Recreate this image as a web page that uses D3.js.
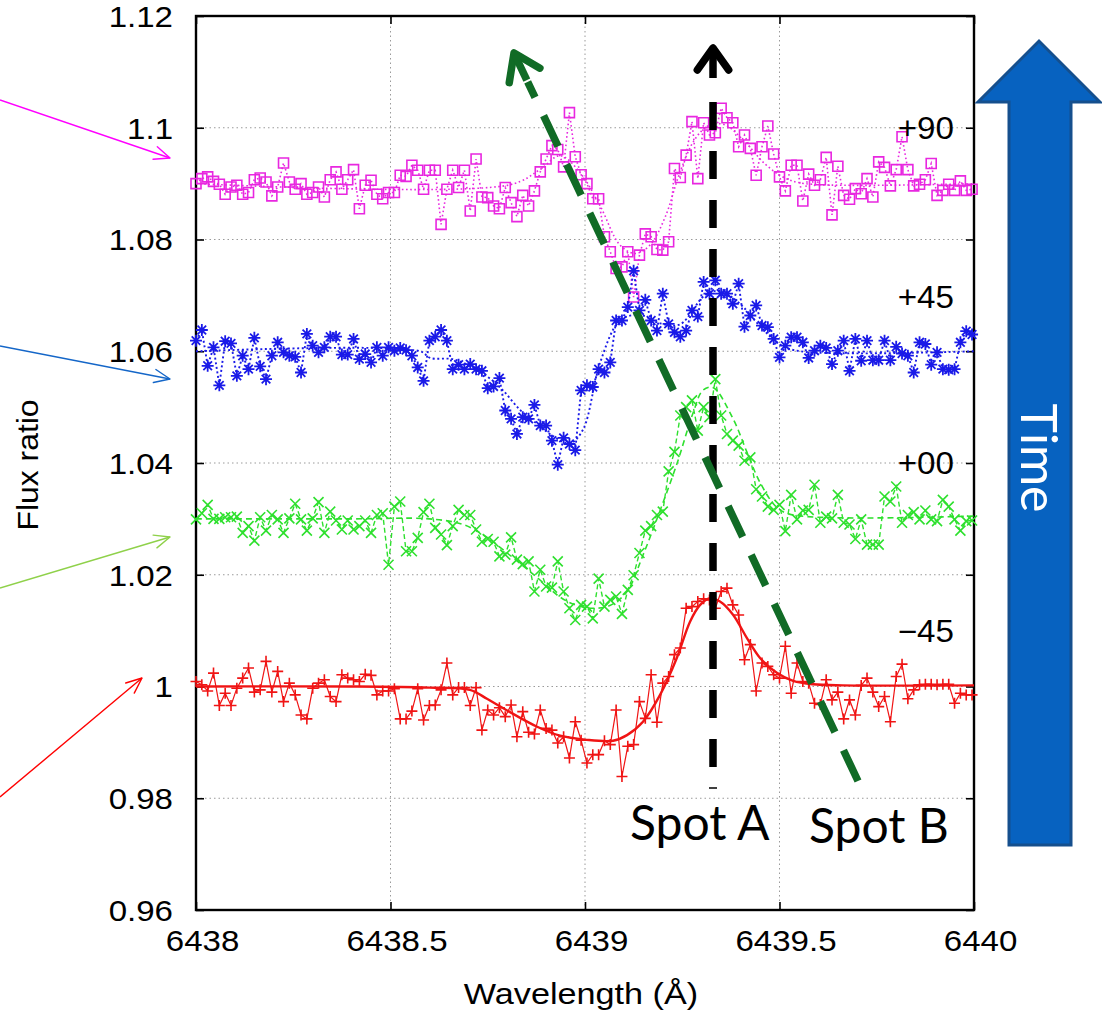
<!DOCTYPE html>
<html lang="en">
<head>
<meta charset="utf-8">
<title>Flux ratio vs wavelength</title>
<script src="https://d3js.org/d3.v7.min.js"></script>
<style>
body { margin: 0; background: #fff; }
svg { display: block; font-family: "Liberation Sans", Arial, sans-serif; }
.grid line { stroke: #9a9a9a; stroke-width: 1; stroke-dasharray: 1.5,3; }
.axis path { display: none; }
.axis line { stroke: #000; stroke-width: 1.6; }
</style>
</head>
<body>
<svg width="1102" height="1016"></svg>
<script>

// spectrum sampling (Angstrom), one flux value per sample in each series below
var wavelengths = d3.range(134).map(function(i) { return 6438 + i * 0.015; });

var fluxM45 = [1.0009,1.0003,0.9992,1.0024,0.9966,0.9988,0.9966,0.9997,1.0015,1.0033,
  0.9990,0.9994,1.0045,0.9990,1.0027,0.9973,1.0006,0.9985,0.9949,0.9942,
  0.9997,1.0006,1.0012,0.9982,0.9973,1.0021,1.0015,1.0012,1.0009,1.0022,
  1.0020,0.9985,0.9992,0.9992,0.9996,0.9942,0.9942,0.9956,0.9996,0.9940,
  0.9966,0.9967,0.9994,1.0042,0.9985,0.9998,0.9998,0.9966,0.9998,0.9922,
  0.9958,0.9949,0.9962,0.9946,0.9967,0.9910,0.9955,0.9918,0.9915,0.9958,
  0.9925,0.9922,0.9899,0.9910,0.9872,0.9937,0.9904,0.9863,0.9878,0.9878,
  0.9903,0.9896,0.9958,0.9839,0.9893,0.9896,0.9973,0.9943,1.0021,0.9936,
  1.0006,1.0018,1.0057,1.0069,1.0140,1.0143,1.0152,1.0157,1.0155,1.0140,
  1.0170,1.0176,1.0146,1.0128,1.0048,1.0075,0.9992,1.0042,1.0036,1.0021,
  1.0015,1.0072,0.9988,1.0042,1.0009,1.0006,0.9970,0.9968,1.0012,0.9976,
  0.9990,0.9942,0.9976,0.9949,1.0002,1.0015,0.9990,0.9964,0.9982,0.9937,
  1.0018,1.0040,0.9978,0.9994,1.0003,1.0004,1.0004,1.0003,1.0004,1.0004,
  0.9970,0.9988,0.9985,0.9985];

var fluxP00 = [1.0299,1.0310,1.0325,1.0300,1.0300,1.0303,1.0303,1.0304,1.0275,1.0287,
  1.0261,1.0303,1.0279,1.0307,1.0299,1.0275,1.0301,1.0327,1.0299,1.0279,
  1.0301,1.0330,1.0275,1.0313,1.0297,1.0281,1.0297,1.0281,1.0287,1.0297,
  1.0275,1.0307,1.0310,1.0218,1.0322,1.0331,1.0242,1.0242,1.0266,1.0312,
  1.0327,1.0284,1.0272,1.0253,1.0287,1.0316,1.0307,1.0307,1.0281,1.0259,
  1.0264,1.0259,1.0233,1.0236,1.0267,1.0227,1.0219,1.0224,1.0170,1.0209,
  1.0179,1.0177,1.0224,1.0170,1.0140,1.0119,1.0146,1.0143,1.0122,1.0193,
  1.0143,1.0155,1.0161,1.0130,1.0173,1.0199,1.0239,1.0279,1.0287,1.0307,
  1.0313,1.0385,1.0420,1.0485,1.0500,1.0512,1.0458,1.0500,1.0482,1.0550,
  1.0485,1.0452,1.0440,1.0431,1.0404,1.0410,1.0353,1.0340,1.0322,1.0316,
  1.0325,1.0278,1.0343,1.0299,1.0315,1.0316,1.0361,1.0293,1.0304,1.0301,
  1.0343,1.0293,1.0290,1.0264,1.0299,1.0254,1.0254,1.0254,1.0340,1.0331,
  1.0358,1.0293,1.0307,1.0312,1.0299,1.0315,1.0299,1.0296,1.0334,1.0322,
  1.0299,1.0279,1.0296,1.0297];

var fluxP45 = [1.0619,1.0638,1.0574,1.0607,1.0539,1.0618,1.0614,1.0556,1.0592,1.0568,
  1.0624,1.0573,1.0550,1.0592,1.0616,1.0598,1.0592,1.0590,1.0562,1.0631,
  1.0610,1.0598,1.0607,1.0626,1.0626,1.0594,1.0594,1.0622,1.0586,1.0595,
  1.0580,1.0607,1.0592,1.0607,1.0601,1.0606,1.0602,1.0592,1.0571,1.0547,
  1.0619,1.0626,1.0638,1.0619,1.0568,1.0576,1.0568,1.0577,1.0568,1.0565,
  1.0534,1.0537,1.0552,1.0494,1.0479,1.0452,1.0482,1.0479,1.0504,1.0467,
  1.0467,1.0440,1.0397,1.0445,1.0434,1.0423,1.0530,1.0539,1.0536,1.0568,
  1.0562,1.0580,1.0655,1.0655,1.0679,1.0744,1.0673,1.0692,1.0655,1.0637,
  1.0703,1.0649,1.0634,1.0626,1.0637,1.0673,1.0662,1.0724,1.0703,1.0727,
  1.0703,1.0703,1.0685,1.0721,1.0644,1.0664,1.0682,1.0646,1.0643,1.0622,
  1.0589,1.0610,1.0625,1.0625,1.0616,1.0588,1.0601,1.0610,1.0606,1.0577,
  1.0601,1.0619,1.0565,1.0622,1.0583,1.0619,1.0584,1.0584,1.0619,1.0584,
  1.0608,1.0596,1.0592,1.0562,1.0616,1.0613,1.0576,1.0598,1.0568,1.0567,
  1.0568,1.0616,1.0636,1.0630];

var fluxP90 = [1.0900,1.0909,1.0912,1.0904,1.0899,1.0881,1.0894,1.0897,1.0881,1.0884,
  1.0907,1.0910,1.0903,1.0878,1.0894,1.0937,1.0903,1.0890,1.0900,1.0881,
  1.0884,1.0894,1.0876,1.0907,1.0921,1.0890,1.0907,1.0925,1.0855,1.0897,
  1.0906,1.0881,1.0873,1.0884,1.0884,1.0915,1.0913,1.0933,1.0924,1.0890,
  1.0924,1.0924,1.0827,1.0890,1.0924,1.0893,1.0924,1.0851,1.0944,1.0876,
  1.0875,1.0860,1.0855,1.0893,1.0866,1.0841,1.0879,1.0860,1.0887,1.0921,
  1.0944,1.0968,1.0961,1.0930,1.1027,1.0948,1.0916,1.0900,1.0873,1.0873,
  1.0805,1.0778,1.0748,1.0751,1.0778,1.0697,1.0772,1.0810,1.0805,1.0782,
  1.0781,1.0796,1.0927,1.0911,1.0951,1.1011,1.0909,1.1009,1.0987,1.0991,
  1.1035,1.1018,1.1009,1.0966,1.0987,1.0963,1.0915,1.0966,1.1003,1.0953,
  1.0912,1.0887,1.0933,1.0933,1.0869,1.0917,1.0897,1.0907,1.0947,1.0844,
  1.0931,1.0879,1.0872,1.0891,1.0882,1.0909,1.0876,1.0939,1.0929,1.0896,
  1.0925,1.0984,1.0925,1.0896,1.0899,1.0907,1.0936,1.0879,1.0888,1.0899,
  1.0888,1.0905,1.0888,1.0890];

// smooth model curves (wavelength, flux)
var fitM45W = [6438.0,6438.40,6438.60,6438.704,6438.748,6438.790,6438.877,6438.936,6439.0,6439.072,6439.108,6439.149,6439.193,6439.236,6439.270,6439.296,6439.321,6439.347,6439.381,6439.416,6439.450,6439.494,6439.535,6439.586,6439.663,6440.0];
var fitM45  = [1.0000,1.0000,0.9998,0.9994,0.9978,0.9961,0.9928,0.9912,0.9905,0.9903,0.9913,0.9937,0.9985,1.0051,1.0116,1.0146,1.0158,1.0152,1.0128,1.0087,1.0051,1.0024,1.0010,1.0004,1.0002,1.0002];

var fitP00W = [6438.0,6438.40,6438.60,6438.686,6438.746,6438.789,6438.877,6438.936,6438.979,6439.021,6439.064,6439.108,6439.149,6439.193,6439.237,6439.278,6439.303,6439.329,6439.380,6439.416,6439.450,6439.494,6439.535,6440.0];
var fitP00  = [1.0300,1.0300,1.0300,1.0290,1.0268,1.0245,1.0195,1.0160,1.0145,1.0140,1.0145,1.0170,1.0235,1.0315,1.0400,1.0490,1.0530,1.0535,1.0480,1.0420,1.0365,1.0320,1.0307,1.0305];

var fitP45W = [6438.0,6438.576,6438.602,6438.666,6438.748,6438.789,6438.833,6438.877,6438.918,6438.961,6438.995,6439.039,6439.090,6439.141,6439.193,6439.244,6439.308,6439.347,6439.398,6439.450,6439.501,6439.553,6440.0];
var fitP45  = [1.0600,1.0600,1.0588,1.0585,1.0555,1.0530,1.0495,1.0470,1.0448,1.0435,1.0460,1.0580,1.0655,1.0665,1.0650,1.0648,1.0700,1.0708,1.0685,1.0645,1.0612,1.0600,1.0600];

var fitP90W = [6438.0,6438.807,6438.884,6438.936,6438.987,6439.039,6439.090,6439.129,6439.167,6439.206,6439.244,6439.283,6439.321,6439.360,6439.411,6439.463,6439.514,6439.566,6440.0];
var fitP90  = [1.0900,1.0898,1.0925,1.0950,1.0920,1.0860,1.0790,1.0775,1.0790,1.0840,1.0920,1.0980,1.1005,1.1005,1.0975,1.0935,1.0910,1.0900,1.0900];

var xTicks = [6438, 6438.5, 6439, 6439.5, 6440];
var xTickLabels = ["6438", "6438.5", "6439", "6439.5", "6440"];
var yTicks = [0.96, 0.98, 1.0, 1.02, 1.04, 1.06, 1.08, 1.1, 1.12];
var yTickLabels = ["0.96", "0.98", "1", "1.02", "1.04", "1.06", "1.08", "1.1", "1.12"];

var phaseLabels = ["\u221245", "+00", "+45", "+90"];
var phaseLabelY = [1.0099, 1.0400, 1.0697, 1.0999];

var svg = d3.select("svg"),
    margin = {top: 16, right: 128, bottom: 106, left: 196},
    width = +svg.attr("width") - margin.left - margin.right,
    height = +svg.attr("height") - margin.top - margin.bottom;

var x = d3.scaleLinear().domain([6438, 6440]).range([margin.left, margin.left + width]);
var y = d3.scaleLinear().domain([0.96, 1.12]).range([margin.top + height, margin.top]);

var stretch = 1.14;

// grid
var grid = svg.append("g").attr("class", "grid");
grid.selectAll(".gx").data(xTicks.slice(1, -1)).enter().append("line")
    .attr("x1", function(d) { return x(d); }).attr("x2", function(d) { return x(d); })
    .attr("y1", y(0.96)).attr("y2", y(1.12));
grid.selectAll(".gy").data(yTicks.slice(1, -1)).enter().append("line")
    .attr("y1", function(d) { return y(d); }).attr("y2", function(d) { return y(d); })
    .attr("x1", x(6438)).attr("x2", x(6440));

// axes
var yAxis = svg.append("g").attr("class", "axis")
    .attr("transform", "translate(" + margin.left + ",0)")
    .call(d3.axisLeft(y).tickValues(yTicks).tickSize(-8).tickSizeOuter(0).tickPadding(23)
      .tickFormat(function(d, i) { return yTickLabels[i]; }));
yAxis.selectAll("text")
    .attr("fill", "#000").style("font-size", "29px")
    .attr("x", -23 / stretch).attr("dy", "0.36em")
    .attr("transform", "scale(" + stretch + ",1)");

var xAxis = svg.append("g").attr("class", "axis")
    .attr("transform", "translate(0," + (margin.top + height) + ")")
    .call(d3.axisBottom(x).tickValues(xTicks).tickSize(-8).tickSizeOuter(0).tickPadding(20)
      .tickFormat(function(d, i) { return xTickLabels[i]; }));
xAxis.selectAll("text")
    .attr("fill", "#000").style("font-size", "29px")
    .attr("x", 6 / stretch)
    .attr("transform", "scale(" + stretch + ",1)");

svg.append("g").attr("class", "axis")
    .attr("transform", "translate(" + (margin.left + width) + ",0)")
    .call(d3.axisRight(y).tickValues(yTicks).tickSize(-8).tickSizeOuter(0).tickFormat(""));
svg.append("g").attr("class", "axis")
    .attr("transform", "translate(0," + margin.top + ")")
    .call(d3.axisTop(x).tickValues(xTicks).tickSize(-8).tickSizeOuter(0).tickFormat(""));

svg.append("rect")
    .attr("x", margin.left).attr("y", margin.top)
    .attr("width", width).attr("height", height)
    .attr("fill", "none").attr("stroke", "#000").attr("stroke-width", 2.4);

// axis titles
svg.append("text")
    .attr("transform", "translate(" + (x(6439) - 4) + ",1004) scale(" + stretch + ",1)")
    .attr("text-anchor", "middle").style("font-size", "30px")
    .text("Wavelength (\u00c5)");
svg.append("text")
    .attr("transform", "translate(38,465) rotate(-90) scale(1.1,1)")
    .attr("text-anchor", "middle").style("font-size", "29px")
    .text("Flux ratio");

// series
var plot = svg.append("g");

function pts(vals) {
  return vals.map(function(v, i) { return [wavelengths[i], v]; });
}
function fitPts(ws, vs) {
  return ws.map(function(w, i) { return [w, vs[i]]; });
}
var line = d3.line().x(function(d) { return x(d[0]); }).y(function(d) { return y(d[1]); });
var smooth = d3.line().curve(d3.curveCatmullRom.alpha(0.5))
    .x(function(d) { return x(d[0]); }).y(function(d) { return y(d[1]); });

var series = [
  {vals: fluxP90, fw: fitP90W, fv: fitP90, color: "#e827e0", dash: "1.6,2.6", lw: 1.6, fdash: "1.6,2.6", flw: 1.6, mark: "square"},
  {vals: fluxP45, fw: fitP45W, fv: fitP45, color: "#1a1ae8", dash: "2,2.6", lw: 1.9, fdash: "2,2.6", flw: 1.9, mark: "star"},
  {vals: fluxP00, fw: fitP00W, fv: fitP00, color: "#2ee02e", dash: "5,3", lw: 1.4, fdash: "6,4", flw: 1.6, mark: "cross"},
  {vals: fluxM45, fw: fitM45W, fv: fitM45, color: "#f01414", dash: null, lw: 1.2, fdash: null, flw: 2.4, mark: "plus"}
];

var markPaths = {
  plus: "M-5.5,0H5.5M0,-5.5V5.5",
  cross: "M-5,-5L5,5M-5,5L5,-5",
  star: "M-6,0H6M0,-6V6M-4.3,-4.3L4.3,4.3M-4.3,4.3L4.3,-4.3",
  square: "M-5,-5H5V5H-5Z"
};

series.forEach(function(s) {
  var g = plot.append("g");
  g.append("path").datum(fitPts(s.fw, s.fv))
      .attr("d", smooth).attr("fill", "none")
      .attr("stroke", s.color).attr("stroke-width", s.flw)
      .attr("stroke-dasharray", s.fdash);
  g.append("path").datum(pts(s.vals))
      .attr("d", line).attr("fill", "none")
      .attr("stroke", s.color).attr("stroke-width", s.lw)
      .attr("stroke-dasharray", s.dash);
  g.selectAll(".m").data(pts(s.vals)).enter().append("path")
      .attr("transform", function(d) { return "translate(" + x(d[0]) + "," + y(d[1]) + ")"; })
      .attr("d", markPaths[s.mark])
      .attr("fill", "none").attr("stroke", s.color)
      .attr("stroke-width", s.mark === "star" ? 1.8 : 1.6);
});

// phase labels
svg.selectAll(".phase").data(phaseLabels).enter().append("text")
    .attr("transform", function(d, i) { return "translate(954," + y(phaseLabelY[i]) + ") scale(1.07,1)"; })
    .attr("text-anchor", "end").attr("dy", "0.36em")
    .style("font-size", "31px")
    .text(function(d) { return d; });

// annotation arrows
function chevron(g, tx, ty, ang, len, spread, color, w) {
  var a1 = ang + Math.PI - spread, a2 = ang + Math.PI + spread;
  g.append("path")
    .attr("d", "M" + (tx + len * Math.cos(a1)) + "," + (ty + len * Math.sin(a1)) +
               "L" + tx + "," + ty +
               "L" + (tx + len * Math.cos(a2)) + "," + (ty + len * Math.sin(a2)))
    .attr("fill", "none").attr("stroke", color).attr("stroke-width", w)
    .attr("stroke-linecap", "round").attr("stroke-linejoin", "round");
}

var ann = svg.append("g");

// Spot A: black dashed vertical
ann.append("line")
    .attr("x1", 713).attr("y1", 767).attr("x2", 713).attr("y2", 100)
    .attr("stroke", "#000").attr("stroke-width", 7.5).attr("stroke-dasharray", "28,21");
ann.append("line")
    .attr("x1", 713).attr("y1", 78).attr("x2", 713).attr("y2", 50)
    .attr("stroke", "#000").attr("stroke-width", 7.5);
chevron(ann, 713, 48, -Math.PI / 2, 27, 0.62, "#000", 7.5);
ann.append("line")
    .attr("x1", 709).attr("y1", 788).attr("x2", 717).attr("y2", 788)
    .attr("stroke", "#000").attr("stroke-width", 1.5);

// Spot B: green dashed diagonal
var gx0 = 858, gy0 = 781, gx1 = 514, gy1 = 53;
var gang = Math.atan2(gy1 - gy0, gx1 - gx0);
ann.append("line")
    .attr("x1", gx0).attr("y1", gy0)
    .attr("x2", gx1 - 32 * Math.cos(gang)).attr("y2", gy1 - 32 * Math.sin(gang))
    .attr("stroke", "#116b26").attr("stroke-width", 7.5).attr("stroke-dasharray", "34,20");
chevron(ann, gx1, gy1, gang, 30, 0.6, "#116b26", 7.5);
ann.append("line")
    .attr("x1", gx1 + 2 * Math.cos(gang + Math.PI)).attr("y1", gy1 + 2 * Math.sin(gang + Math.PI))
    .attr("x2", gx1 - 30 * Math.cos(gang)).attr("y2", gy1 - 30 * Math.sin(gang))
    .attr("stroke", "#116b26").attr("stroke-width", 7.5);

ann.append("text").attr("x", 630).attr("y", 840)
    .style("font-family", "Lato, 'Open Sans', sans-serif").style("font-size", "48px")
    .text("Spot A");
ann.append("text").attr("x", 809).attr("y", 843)
    .style("font-family", "Lato, 'Open Sans', sans-serif").style("font-size", "48px")
    .text("Spot B");

// thin pointer arrows on the left
var pointers = [
  {x0: 0, y0: 100, x1: 170, y1: 158, c: "#ff00ff"},
  {x0: 0, y0: 346, x1: 170, y1: 379, c: "#1466c8"},
  {x0: 0, y0: 588, x1: 170, y1: 537, c: "#8fd14a"},
  {x0: 0, y0: 797, x1: 142, y1: 678, c: "#ff0000"}
];
pointers.forEach(function(p) {
  ann.append("line").attr("x1", p.x0).attr("y1", p.y0).attr("x2", p.x1).attr("y2", p.y1)
      .attr("stroke", p.c).attr("stroke-width", 1.4);
  chevron(ann, p.x1, p.y1, Math.atan2(p.y1 - p.y0, p.x1 - p.x0), 17, 0.4, p.c, 1.4);
});

// Time arrow
ann.append("path")
    .attr("d", "M1009,845V102H978L1039,41L1100,102H1071V845Z")
    .attr("fill", "#0762c0").attr("stroke", "#154f8d").attr("stroke-width", 3)
    .attr("stroke-linejoin", "miter");
ann.append("text")
    .attr("transform", "translate(1040,458) rotate(90)")
    .attr("text-anchor", "middle").attr("dominant-baseline", "central")
    .attr("fill", "#fff")
    .style("font-family", "Lato, 'Open Sans', sans-serif").style("font-size", "50px")
    .text("Time");

</script>
</body>
</html>
